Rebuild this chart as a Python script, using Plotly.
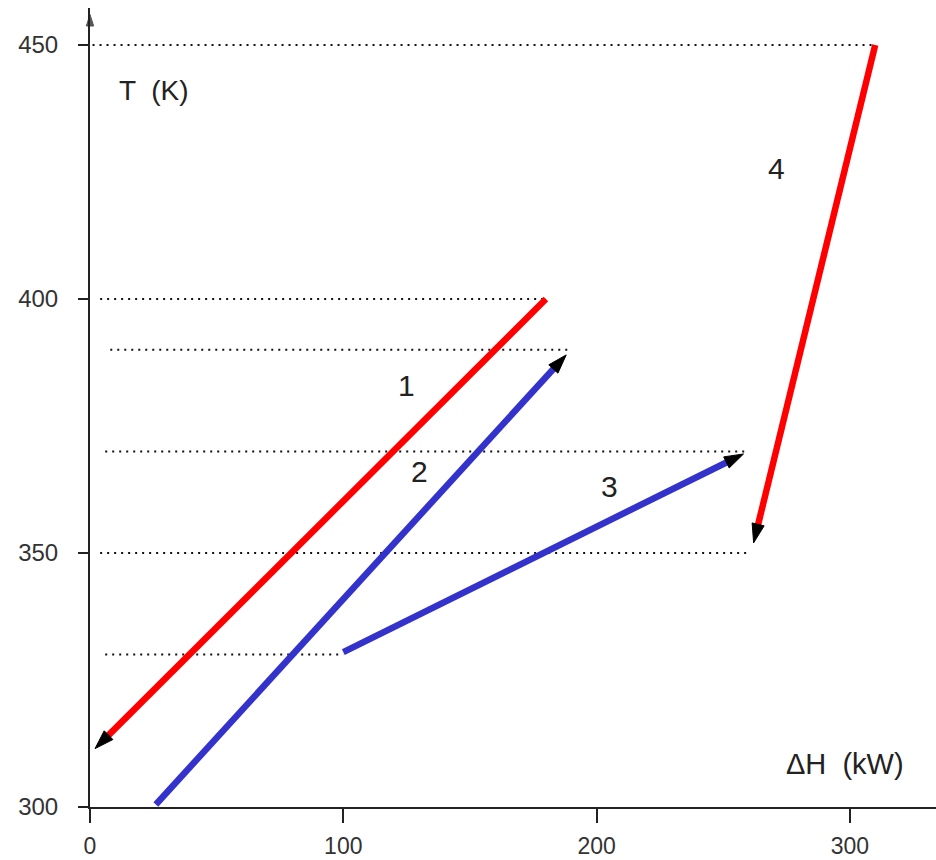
import plotly.graph_objects as go

# Stream data (ΔH in kW, T in K)
stream_names = ["1", "2", "3", "4"]
h_start = [180, 26, 100, 310]
h_end = [2, 188, 258, 262]
t_start = [400, 300.5, 330.5, 450]
t_end = [311.5, 389, 369.5, 352]
stream_colors = ["#FF0000", "#3333CC", "#3333CC", "#FF0000"]

# Stream label positions
label_h = [125, 130, 205, 271]
label_t = [383, 366, 363, 425.8]

# Dotted guide lines
guide_t = [450, 400, 390, 370, 350, 330]
guide_h_start = [1, 4, 8, 6, 4, 6]
guide_h_end = [310, 180, 190, 260, 261, 100]

x_ticks = [0, 100, 200, 300]
y_ticks = [300, 350, 400, 450]

FONT = "Liberation Sans, Arial, sans-serif"

fig = go.Figure()

for t, hs, he in zip(guide_t, guide_h_start, guide_h_end):
    fig.add_trace(go.Scatter(x=[hs, he], y=[t, t], mode="lines",
                             line=dict(color="#111111", width=2, dash="2px,5px"),
                             hoverinfo="skip", showlegend=False))

for name, hs, he, ts, te, c in zip(stream_names, h_start, h_end, t_start, t_end, stream_colors):
    fig.add_trace(go.Scatter(x=[hs, he], y=[ts, te], mode="lines+markers",
                             line=dict(color=c, width=6.5),
                             marker=dict(symbol=["circle", "arrow"], size=[0, 20],
                                         color="black", opacity=1, angleref="previous",
                                         line=dict(width=1, color="black")),
                             cliponaxis=False, name=name, showlegend=False))

# small arrow on top of the T axis
fig.add_trace(go.Scatter(x=[0, 0], y=[450, 456.0], mode="markers",
                         marker=dict(symbol=["circle", "arrow"], size=[0, 12],
                                     color="#111111", angleref="previous",
                                     line=dict(width=1, color="#111111")),
                         cliponaxis=False, hoverinfo="skip", showlegend=False))

for name, lx, ly in zip(stream_names, label_h, label_t):
    fig.add_annotation(x=lx, y=ly, text=name, showarrow=False,
                       font=dict(size=30, color="#222222", family=FONT))

fig.add_annotation(x=24.9, y=441.1, text="T  (K)", showarrow=False,
                   font=dict(size=28, color="#222222", family=FONT))
fig.add_annotation(x=297.9, y=308.5, text="ΔH  (kW)", showarrow=False,
                   font=dict(size=29, color="#222222", family=FONT))

fig.update_layout(
    width=936, height=860,
    margin=dict(l=90, r=0, t=8, b=53),
    paper_bgcolor="white", plot_bgcolor="white",
    font=dict(family=FONT, color="#222222"),
    xaxis=dict(range=[0, 334], tickvals=x_ticks, showgrid=False, zeroline=False,
               showline=True, linecolor="#222222", linewidth=2, automargin=False,
               ticks="outside", ticklen=14, tickwidth=2, tickcolor="#222222",
               tickfont=dict(size=23, color="#333333"), ticklabelstandoff=3),
    yaxis=dict(range=[300, 457.3], tickvals=y_ticks, showgrid=False, zeroline=False,
               showline=True, linecolor="#222222", linewidth=2, automargin=False,
               ticks="outside", ticklen=10, tickwidth=2, tickcolor="#222222",
               tickfont=dict(size=24, color="#333333"), ticklabelstandoff=15),
)

fig.write_html("out.html", config={"displayModeBar": False},
               post_script="document.body.style.margin='0';")
